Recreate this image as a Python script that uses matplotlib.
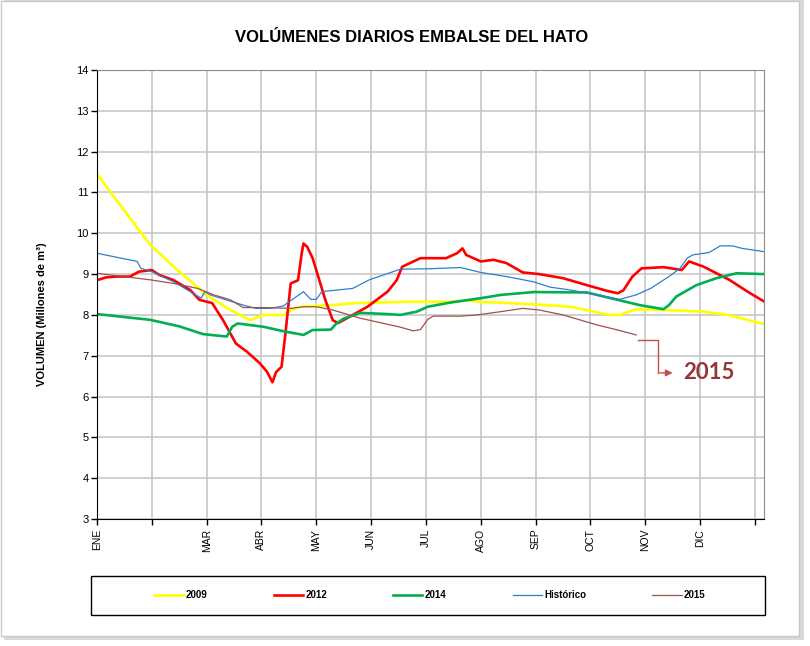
import matplotlib
matplotlib.use('Agg')
import matplotlib.pyplot as plt
from matplotlib.patches import Rectangle
import numpy as np

# ---- datos (dia del año, millones de m3) ----
meses = ['ENE', '', 'MAR', 'ABR', 'MAY', 'JUN', 'JUL', 'AGO', 'SEP', 'OCT', 'NOV', 'DIC', '']
dias_mes = np.arange(0, 361, 30)

dias_2009 = [0, 29, 44, 60, 73, 84, 91, 102, 109, 113, 128, 142, 167, 192, 202, 210,
             239, 259, 281, 286, 295, 310, 332, 345, 363, 365]
vol_2009 = [11.45, 9.72, 9.1, 8.49, 8.12, 7.87, 8.0, 8.0, 8.18, 8.2, 8.24, 8.29, 8.32,
            8.32, 8.36, 8.32, 8.26, 8.2, 8.0, 8.0, 8.14, 8.12, 8.08, 8.0, 7.8, 7.78]

dias_2012 = [0, 5, 11, 18, 23, 30, 34, 42, 51, 56, 63, 69, 76, 82, 89, 93, 96, 98, 101,
             103, 106, 108, 110, 112, 113, 115, 118, 125, 129, 132, 148, 159, 164, 167,
             177, 191, 197, 200, 202, 210, 217, 224, 233, 242, 255, 268, 279, 285, 288,
             293, 298, 310, 320, 324, 332, 339, 346, 356, 365]
vol_2012 = [8.85, 8.92, 8.94, 8.94, 9.06, 9.1, 8.98, 8.85, 8.61, 8.37, 8.29, 7.87, 7.3,
            7.1, 6.82, 6.61, 6.35, 6.6, 6.73, 7.5, 8.77, 8.81, 8.85, 9.5, 9.75, 9.67,
            9.39, 8.36, 7.87, 7.8, 8.2, 8.57, 8.85, 9.18, 9.39, 9.39, 9.51, 9.63, 9.47,
            9.31, 9.35, 9.27, 9.04, 9.0, 8.9, 8.73, 8.59, 8.53, 8.6, 8.94, 9.14, 9.17,
            9.1, 9.31, 9.18, 9.02, 8.86, 8.57, 8.33]

dias_2014 = [0, 29, 45, 58, 71, 74, 77, 91, 102, 113, 118, 128, 131, 135, 144, 159, 166,
             175, 181, 193, 210, 221, 239, 268, 281, 297, 310, 313, 317, 328, 339, 350, 365]
vol_2014 = [8.02, 7.88, 7.72, 7.53, 7.47, 7.71, 7.79, 7.71, 7.6, 7.51, 7.63, 7.64, 7.79,
            7.91, 8.05, 8.02, 8.0, 8.08, 8.2, 8.3, 8.41, 8.49, 8.56, 8.55, 8.41, 8.24,
            8.14, 8.24, 8.45, 8.73, 8.9, 9.02, 9.0]

dias_hist = [0, 22, 24, 30, 42, 57, 59, 62, 80, 87, 95, 102, 106, 113, 117, 120, 123,
             140, 149, 166, 181, 199, 210, 224, 239, 248, 259, 274, 286, 295, 303, 313,
             319, 323, 326, 335, 341, 348, 353, 365]
vol_hist = [9.51, 9.31, 9.14, 9.06, 8.81, 8.41, 8.57, 8.49, 8.24, 8.16, 8.16, 8.22, 8.35,
            8.57, 8.38, 8.38, 8.57, 8.65, 8.86, 9.12, 9.13, 9.16, 9.04, 8.94, 8.81, 8.68,
            8.61, 8.49, 8.38, 8.49, 8.65, 8.94, 9.14, 9.39, 9.47, 9.53, 9.69, 9.69, 9.63,
            9.55]

dias_2015 = [0, 29, 42, 55, 64, 73, 80, 91, 106, 113, 120, 129, 144, 155, 166, 173, 177,
             181, 184, 199, 208, 221, 233, 242, 255, 274, 285, 295]
vol_2015 = [9.02, 8.86, 8.77, 8.65, 8.49, 8.37, 8.18, 8.18, 8.16, 8.2, 8.2, 8.12, 7.92,
            7.81, 7.7, 7.61, 7.64, 7.89, 7.97, 7.97, 8.0, 8.08, 8.16, 8.12, 8.0, 7.75,
            7.63, 7.51]

W, H = 810, 646
fig = plt.figure(figsize=(W / 100, H / 100), dpi=100)
fuente = 'Liberation Sans'


def caja(x0, y0, x1, y1):
    # pixeles (origen arriba-izquierda) -> fraccion de figura
    return [x0 / W, 1 - y1 / H, (x1 - x0) / W, (y1 - y0) / H]


# marco exterior con sombra (debajo de los ejes)
fig.patches.append(Rectangle((4 / W, 1 - 640 / H), 800 / W, 640 / H, transform=fig.transFigure,
                             facecolor='#d9d9d9', edgecolor='none', zorder=-2))
fig.patches.append(Rectangle((1 / W, 1 - 636 / H), 798 / W, 635 / H, transform=fig.transFigure,
                             facecolor='white', edgecolor='#c8c8c8', lw=1, zorder=-1))

ax = fig.add_axes(caja(97, 70, 764, 519))

ax.plot(dias_2009, vol_2009, color='#ffff00', lw=1.9, label='2009')
ax.plot(dias_2012, vol_2012, color='#ff0000', lw=1.9, label='2012')
ax.plot(dias_2014, vol_2014, color='#00b050', lw=1.9, label='2014')
ax.plot(dias_hist, vol_hist, color='#2e7fcc', lw=0.9, label='Histórico')
ax.plot(dias_2015, vol_2015, color='#a0504f', lw=0.9, label='2015')

ax.set_xlim(0, 365)
ax.set_ylim(3, 14)
ax.set_xticks(dias_mes)
ax.set_xticklabels(meses, rotation=90, fontsize=7.5, family=fuente)
ax.set_yticks(range(3, 15))
ax.tick_params(axis='y', labelsize=8, length=4, width=1, pad=2)
ax.tick_params(axis='x', length=4, width=1, pad=3)
for t in ax.get_yticklabels():
    t.set_family(fuente)
ax.grid(True, color='#c4c4c4', lw=1.1)
ax.set_axisbelow(True)
for s in ['top', 'right']:
    ax.spines[s].set_color('#8c8c8c')
for s in ['left', 'bottom']:
    ax.spines[s].set_color('black')

# llamada 2015
cfl = '#c0504d'
ax.plot([296, 307, 307], [7.385, 7.385, 6.58], color=cfl, lw=1)
ax.annotate('', xy=(316.5, 6.58), xytext=(306.5, 6.58),
            arrowprops=dict(arrowstyle='-|>', color=cfl, lw=1, mutation_scale=10))
ax.text(320.5, 6.58, '2015', color='#953735', fontsize=16, weight='bold',
        family='Lato', va='center', ha='left')

fig.text(412 / W, 1 - 37 / H, 'VOLÚMENES DIARIOS EMBALSE DEL HATO', ha='center', va='center',
         fontsize=12, weight='bold', family=fuente)
fig.text(42 / W, 1 - 314 / H, 'VOLUMEN (Millones de m\u00b3)', rotation=90, ha='center',
         va='center', fontsize=8, weight='bold', family=fuente)

# leyenda
fig.patches.append(Rectangle((91 / W, 1 - 615 / H), 674 / W, 39 / H, transform=fig.transFigure,
                             facecolor='white', edgecolor='black', lw=1))
h, l = ax.get_legend_handles_labels()
fig.legend(h, l, loc='center', bbox_to_anchor=(430 / W, 1 - 595 / H), ncol=5, frameon=False,
           prop={'family': fuente, 'weight': 'bold', 'size': 7}, handlelength=3,
           handletextpad=0.25, columnspacing=6.8)

fig.savefig('out.png', dpi=100)
